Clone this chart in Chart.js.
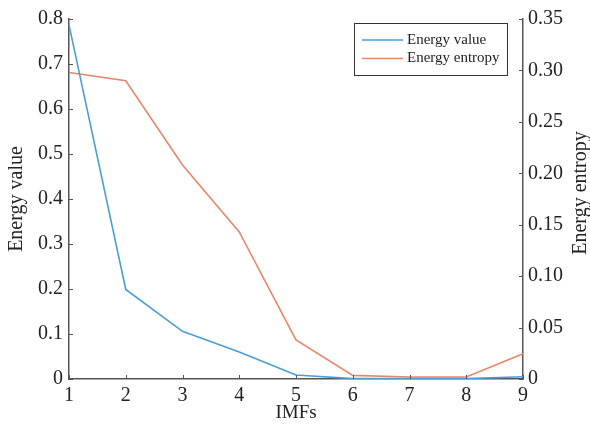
<!DOCTYPE html>
<html>
<head>
<meta charset="utf-8">
<script src="https://cdn.jsdelivr.net/npm/chart.js@4.4.1/dist/chart.umd.min.js"></script>
<style>
html,body{margin:0;padding:0;background:#fff;}
#wrap{width:590px;height:427px;}
</style>
</head>
<body>
<div id="wrap"><canvas id="c" width="590" height="427"></canvas></div>
<script>
const categories = ['1','2','3','4','5','6','7','8','9'];
const energyValue = [0.787, 0.199, 0.106, 0.060, 0.009, 0.0008, 0.0008, 0.0008, 0.005];
const energyEntropy = [0.298, 0.290, 0.208, 0.143, 0.038, 0.0035, 0.002, 0.002, 0.0245];
const leftTicks = [0, 0.1, 0.2, 0.3, 0.4, 0.5, 0.6, 0.7, 0.8];
const rightTicks = ['0', '0.05', '0.10', '0.15', '0.20', '0.25', '0.30', '0.35'];
const xTitle = 'IMFs';
const leftTitle = 'Energy value';
const rightTitle = 'Energy entropy';

const SERIF = '"Liberation Serif", "Times New Roman", serif';
const AXIS = '#555555';
const TEXT = '#222222';
const BLUE = '#4a9ed6';
const ORANGE = '#e8866a';

const innerTicks = {
  id: 'innerTicks',
  afterDraw(chart) {
    const ctx = chart.ctx;
    const ca = chart.chartArea;
    ctx.save();
    ctx.strokeStyle = AXIS;
    ctx.lineWidth = 1;
    const L = 4;
    const x = chart.scales.x;
    x.ticks.forEach((t, i) => {
      const px = Math.round(x.getPixelForTick(i)) + 0.5;
      ctx.beginPath(); ctx.moveTo(px, ca.bottom); ctx.lineTo(px, ca.bottom - L); ctx.stroke();
    });
    const y = chart.scales.y;
    y.ticks.forEach((t) => {
      const py = Math.round(y.getPixelForValue(t.value)) + 0.5;
      ctx.beginPath(); ctx.moveTo(ca.left, py); ctx.lineTo(ca.left + L, py); ctx.stroke();
    });
    const y2 = chart.scales.y2;
    y2.ticks.forEach((t) => {
      const py = Math.round(y2.getPixelForValue(t.value)) + 0.5;
      ctx.beginPath(); ctx.moveTo(ca.right, py); ctx.lineTo(ca.right - L, py); ctx.stroke();
    });
    // right axis title, reading bottom-to-top
    ctx.save();
    ctx.translate(581, 193);
    ctx.rotate(-Math.PI / 2);
    ctx.font = '20px ' + SERIF;
    ctx.fillStyle = TEXT;
    ctx.textAlign = 'center';
    ctx.textBaseline = 'middle';
    ctx.fillText(rightTitle, 0, 0);
    ctx.restore();
    // legend box
    const bx = 354.5, by = 23.5, bw = 153, bh = 52;
    ctx.fillStyle = '#fff';
    ctx.fillRect(bx, by, bw, bh);
    ctx.strokeStyle = '#333';
    ctx.lineWidth = 1;
    ctx.strokeRect(bx, by, bw, bh);
    ctx.font = '15px ' + SERIF;
    ctx.textBaseline = 'middle';
    ctx.textAlign = 'left';
    chart.data.datasets.forEach((ds, i) => {
      const ly = 40 + i * 18.5;
      ctx.strokeStyle = ds.borderColor;
      ctx.lineWidth = 1.5;
      ctx.beginPath(); ctx.moveTo(362, ly); ctx.lineTo(403, ly); ctx.stroke();
      ctx.fillStyle = TEXT;
      ctx.fillText(ds.label, 407, ly);
    });
    ctx.restore();
  }
};

new Chart(document.getElementById('c'), {
  type: 'line',
  data: {
    labels: categories,
    datasets: [
      { label: 'Energy value', data: energyValue, borderColor: BLUE, backgroundColor: BLUE, borderWidth: 1.6, pointRadius: 0, yAxisID: 'y', tension: 0 },
      { label: 'Energy entropy', data: energyEntropy, borderColor: ORANGE, backgroundColor: ORANGE, borderWidth: 1.6, pointRadius: 0, yAxisID: 'y2', tension: 0 }
    ]
  },
  options: {
    responsive: false,
    animation: false,
    devicePixelRatio: 1,
    layout: { padding: { top: 19, left: 0, right: 0, bottom: 0 } },
    plugins: { legend: { display: false }, tooltip: { enabled: false } },
    scales: {
      x: {
        type: 'category',
        offset: false,
        grid: { display: false, drawTicks: false },
        border: { display: true, color: AXIS, width: 1.5 },
        ticks: { color: TEXT, font: { family: SERIF, size: 20 }, padding: 5, maxRotation: 0, autoSkip: false },
        title: { display: true, text: xTitle, color: TEXT, font: { family: SERIF, size: 19 }, padding: { top: 0, bottom: 3 } },
        afterFit(s) { s.height = 48; }
      },
      y: {
        position: 'left',
        min: 0, max: 0.8,
        grid: { display: false, drawTicks: false },
        border: { display: true, color: AXIS, width: 1.5 },
        afterBuildTicks(s) { s.ticks = leftTicks.map(v => ({ value: v })); },
        ticks: { color: TEXT, font: { family: SERIF, size: 20 }, padding: 6, callback: (v) => String(v) },
        title: { display: true, text: leftTitle, color: TEXT, font: { family: SERIF, size: 20 }, padding: { top: 5, bottom: 0 } },
        afterFit(s) { s.width = 69; }
      },
      y2: {
        position: 'right',
        min: 0, max: 0.35,
        grid: { display: false, drawTicks: false },
        border: { display: true, color: AXIS, width: 1.5 },
        afterBuildTicks(s) { s.ticks = rightTicks.map(v => ({ value: parseFloat(v) })); },
        ticks: { color: TEXT, font: { family: SERIF, size: 20 }, padding: 5, callback: (v, i) => rightTicks[i] },
        title: { display: false },
        afterFit(s) { s.width = 67; }
      }
    }
  },
  plugins: [innerTicks]
});
</script>
</body>
</html>
